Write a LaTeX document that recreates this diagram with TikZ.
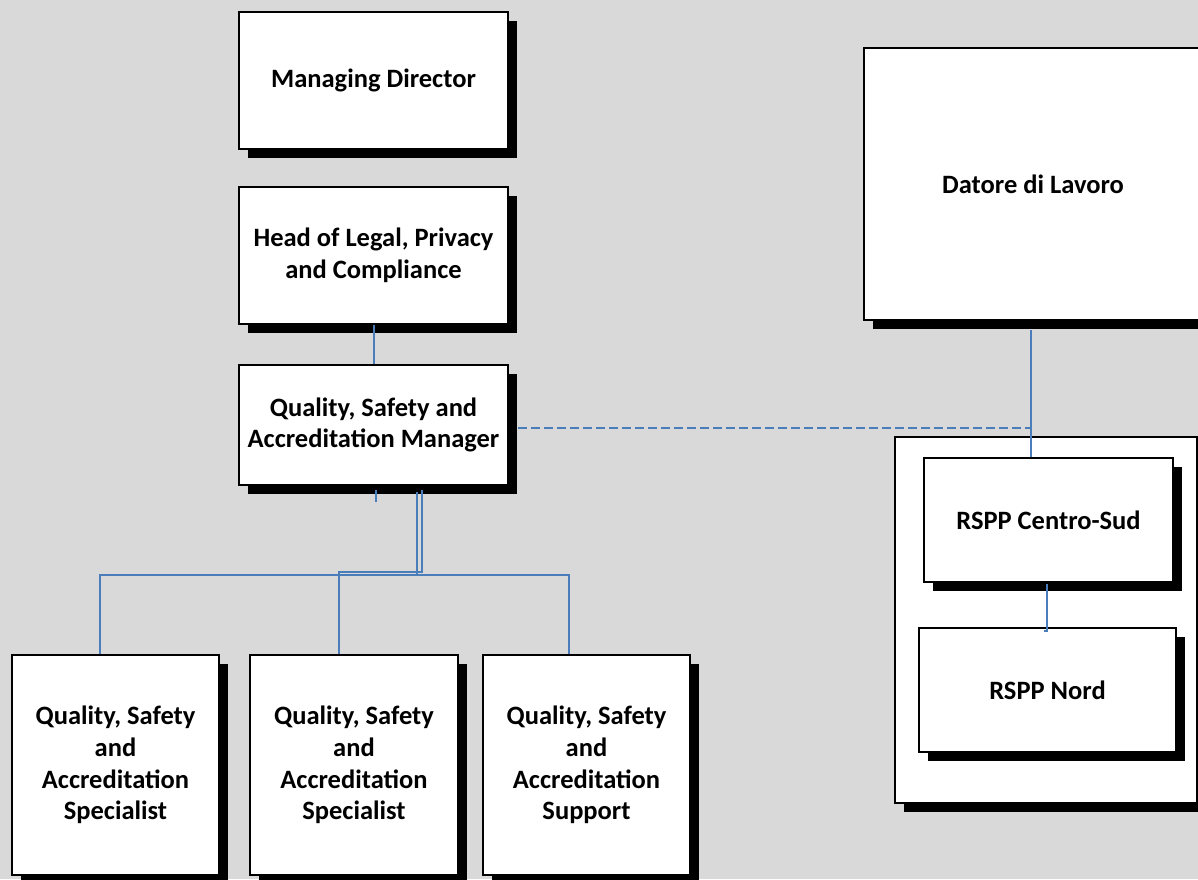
\documentclass[tikz,border=0pt]{standalone}
\usepackage{fontspec}
\setmainfont{Carlito}
\usetikzlibrary{calc,shadows}
\definecolor{bg}{HTML}{D9D9D9}
\definecolor{conn}{HTML}{4A7EBB}
\begin{document}
\begin{tikzpicture}[x=1pt,y=-1pt,
  box/.style={draw=black, line width=2pt, fill=white, align=center,
    font=\fontsize{26.5}{31.8}\selectfont\bfseries, inner sep=0pt,
    drop shadow={shadow xshift=9pt, shadow yshift=-9pt, fill=black, opacity=1}},
  link/.style={draw=conn, line width=1.6pt},
  dlink/.style={link, dash pattern=on 9pt off 4pt}]
\fill[bg] (0,0) rectangle (1198,879);
\useasboundingbox (0,0) rectangle (1198,879);
\begin{scope}
\clip (0,0) rectangle (1198,879);
\node[box, minimum width=269pt, minimum height=137pt] (md) at (373.5,80) {Managing Director};
\node[box, minimum width=269pt, minimum height=137pt] (head) at (373.5,255.5) {Head of Legal, Privacy\\and Compliance};
\node[box, minimum width=269pt, minimum height=120pt] (qsam) at (373.5,425) {Quality, Safety and\\Accreditation Manager};
\node[box, minimum width=207pt, minimum height=220pt] (s1) at (115.5,765) {Quality, Safety\\and\\Accreditation\\Specialist};
\node[box, minimum width=208pt, minimum height=220pt] (s2) at (354,765) {Quality, Safety\\and\\Accreditation\\Specialist};
\node[box, minimum width=207pt, minimum height=220pt] (sup) at (586.5,765) {Quality, Safety\\and\\Accreditation\\Support};
\node[box, minimum width=338pt, minimum height=272pt] (datore) at (1033,184) {Datore di Lavoro};
\node[box, minimum width=302pt, minimum height=366pt] (cont) at (1046,620) {};
\node[box, minimum width=249pt, minimum height=124pt] (rcs) at (1048.5,520) {RSPP Centro-Sud};
\node[box, minimum width=257pt, minimum height=124pt] (rn) at (1047.5,690) {RSPP Nord};
\end{scope}
% coordinates
\coordinate (xh) at (374,0);
\coordinate (xa) at (417,0);
\coordinate (xb) at (422,0);
\coordinate (ya) at (0,575);
\coordinate (yb) at (0,572);
\coordinate (x1) at (100,0);
\coordinate (x2) at (339,0);
\coordinate (x3) at (569,0);
\coordinate (xd) at (1031,0);
\coordinate (xr) at (1047,0);
\coordinate (stubtop) at (376,490);
\coordinate (stubbot) at (376,502);
% connectors
\draw[link] (head.south -| xh) -- (qsam.north -| xh);
\draw[link] (stubtop) -- (stubbot);
\draw[link] ($(qsam.south -| xa)+(0,6)$) -- (xa |- ya) -- (x1 |- ya) -- (s1.north -| x1);
\draw[link] (xa |- ya) -- (x3 |- ya) -- (sup.north -| x3);
\draw[link] ($(qsam.south -| xb)+(0,4)$) -- (xb |- yb) -- (x2 |- yb) -- (s2.north -| x2);
\draw[link] ($(datore.south -| xd)+(0,9)$) -- (rcs.north -| xd);
\draw[dlink] ($(qsam.east)+(9,3)$) -- (xd |- 0,428);
\draw[link] ($(rcs.south -| xr)+(0,1)$) -- ($(rn.north -| xr)+(0,4)$) -- ++(-3,0);
\end{tikzpicture}
\end{document}
